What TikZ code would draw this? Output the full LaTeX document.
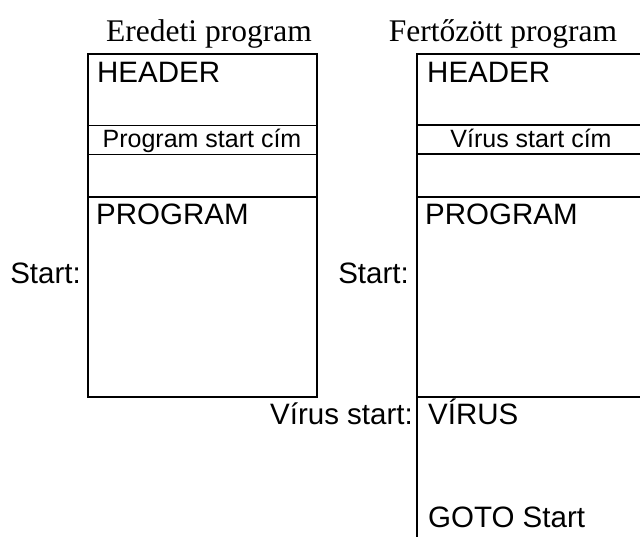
\documentclass[tikz,border=0pt]{standalone}
\usepackage{fontspec}
\setmainfont{Liberation Sans}
\newfontfamily\seriffam{Liberation Serif}
\begin{document}
\begin{tikzpicture}[x=1pt,y=-1pt,
  lbl/.style={inner sep=0pt,anchor=base west,font=\fontsize{29.5}{31}\selectfont},
  lblr/.style={inner sep=0pt,anchor=base east,font=\fontsize{29.5}{31}\selectfont},
  sml/.style={inner sep=0pt,anchor=base,font=\fontsize{25}{27}\selectfont},
  ttl/.style={inner sep=0pt,anchor=base,font=\seriffam\fontsize{31.5}{33}\selectfont},
  box/.style={line width=1.5pt},
  thinl/.style={line width=0.9pt}]
\useasboundingbox (0,0) rectangle (640,536);
% titles
\node[ttl] (t1) at (209,41) {Eredeti program};
\node[ttl] (t2) at (503,41) {Fertőzött program};
% left box
\draw[box] (88,54) rectangle (317,397);
\draw[thinl] (88,125) -- (317,125);
\draw[thinl] (88,154) -- (317,154);
\draw[box] (88,197) -- (317,197);
\node[lbl] (h1) at (97,82) {HEADER};
\node[sml] (p1) at (202,147) {Program start cím};
\node[lbl] (g1) at (96,224) {PROGRAM};
\node[lblr] (s1) at (81,283) {Start:};
% right box
\draw[box] (650,54) -- (417,54) -- (417,545);
\draw[box] (417,125) -- (650,125);
\draw[box] (417,154) -- (650,154);
\draw[box] (417,197) -- (650,197);
\draw[box] (417,397) -- (650,397);
\node[lbl] (h2) at (427,82) {HEADER};
\node[sml] (p2) at (531,147) {Vírus start cím};
\node[lbl] (g2) at (425,224) {PROGRAM};
\node[lblr] (s2) at (409,283) {Start:};
\node[lblr] (vs) at (413,424) {Vírus start:};
\node[lbl] (v2) at (428,424) {VÍRUS};
\node[lbl] (gt) at (428,527) {GOTO Start};
\end{tikzpicture}
\end{document}
